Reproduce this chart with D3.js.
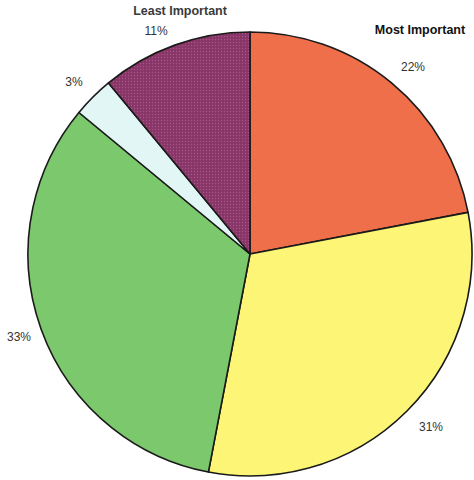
<!DOCTYPE html>
<html>
<head>
<meta charset="utf-8">
<script src="https://cdn.jsdelivr.net/npm/d3@7"></script>
<style>
  html, body { margin: 0; padding: 0; background: #fff; }
  svg { display: block; }
  text { font-family: "Liberation Sans", Arial, sans-serif; fill: #333; }
</style>
</head>
<body>
<svg id="chart" width="474" height="480"></svg>
<script>
// Share of responses by importance rank, clockwise from 12 o'clock
const categories = ["Most Important", "Second", "Third", "Fourth", "Least Important"];
const values = [22, 31, 33, 3, 11];
const percentLabels = ["22%", "31%", "33%", "3%", "11%"];
const colors = ["#f06f4b", "#fdf576", "#7bc96c", "#e3f6f6", "#883668"];

const width = 474, height = 480;
const cx = 250, cy = 254, radius = 222;

const svg = d3.select("#chart");

// Fine dot texture on the least-important slice
const defs = svg.append("defs");
const pat = defs.append("pattern")
  .attr("id", "dots")
  .attr("width", 3).attr("height", 3)
  .attr("patternUnits", "userSpaceOnUse");
pat.append("rect").attr("width", 3).attr("height", 3).attr("fill", colors[4]);
pat.append("circle").attr("cx", 1.5).attr("cy", 1.5).attr("r", 0.7).attr("fill", "#a9558a");

const pie = d3.pie().sort(null).value(d => d)
  .startAngle(0).endAngle(2 * Math.PI);
const arcs = pie(values);
const arc = d3.arc().innerRadius(0).outerRadius(radius);

const g = svg.append("g").attr("transform", `translate(${cx},${cy})`);

g.selectAll("path.slice")
  .data(arcs)
  .join("path")
  .attr("class", "slice")
  .attr("d", arc)
  .attr("fill", (d, i) => i === 4 ? "url(#dots)" : colors[i])
  .attr("stroke", "#1a1a1a")
  .attr("stroke-width", 1.6)
  .attr("stroke-linejoin", "round");

// Percentage labels outside the pie
const labelOffsets = [
  { dx: 163, dy: -186 },
  { dx: 181, dy: 174 },
  { dx: -231, dy: 84 },
  { dx: -176, dy: -171 },
  { dx: -94, dy: -222 }
];
arcs.forEach((d, i) => {
  const o = labelOffsets[i];
  g.append("text")
    .attr("x", o.dx).attr("y", o.dy)
    .attr("text-anchor", "middle")
    .attr("dominant-baseline", "middle")
    .attr("font-size", 12)
    .text(percentLabels[i]);
});

// Rank captions for the extremes
g.append("text")
  .attr("x", -70).attr("y", -242)
  .attr("text-anchor", "middle")
  .attr("dominant-baseline", "middle")
  .attr("font-size", 12.5)
  .attr("font-weight", "bold")
  .style("fill", "#3a3a3a")
  .text(categories[4]);

g.append("text")
  .attr("x", 170).attr("y", -223)
  .attr("text-anchor", "middle")
  .attr("dominant-baseline", "middle")
  .attr("font-size", 12.5)
  .attr("font-weight", "bold")
  .style("fill", "#111")
  .text(categories[0]);
</script>
</body>
</html>
